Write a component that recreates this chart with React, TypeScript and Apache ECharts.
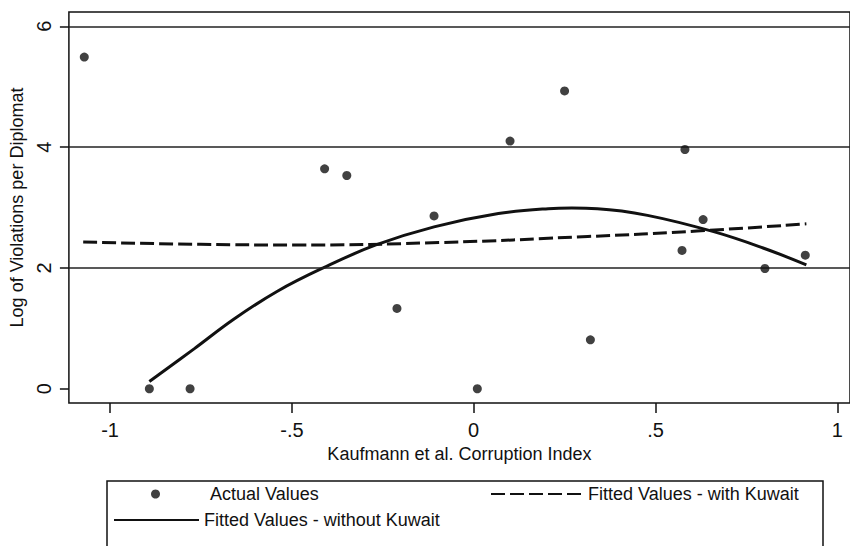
import React, { useEffect, useRef } from "react";
import * as echarts from "echarts";

// ---- data ----
const actualX = [-1.071, -0.892, -0.78, -0.41, -0.349, -0.211, -0.109, 0.01, 0.1, 0.25, 0.321, 0.573, 0.581, 0.631, 0.801, 0.912];
const actualY = [5.49, 0.0, 0.0, 3.64, 3.53, 1.33, 2.86, 0.0, 4.1, 4.93, 0.81, 2.29, 3.96, 2.8, 1.99, 2.21];

const fitWithX = [-1.074, -0.751, -0.478, -0.096, 0.314, 0.614, 0.915];
const fitWithY = [2.43, 2.39, 2.38, 2.42, 2.52, 2.61, 2.73];

const fitWithoutX = [-0.892, -0.769, -0.66, -0.541, -0.414, -0.269, -0.109, 0.068, 0.205, 0.27, 0.34, 0.478, 0.66, 0.796, 0.915];
const fitWithoutY = [0.12, 0.66, 1.15, 1.61, 2.0, 2.38, 2.68, 2.9, 2.98, 2.99, 2.98, 2.87, 2.6, 2.33, 2.05];

const xTickValues = [-1, -0.5, 0, 0.5, 1];
const xTickLabels = ["-1", "-.5", "0", ".5", "1"];
const yTickValues = [0, 2, 4, 6];
const yTickLabels = ["0", "2", "4", "6"];
const gridLineValues = [2, 4, 6];

const seriesNames = ["Actual Values", "Fitted Values - with Kuwait", "Fitted Values - without Kuwait"];
const xTitle = "Kaufmann et al. Corruption Index";
const yTitle = "Log of Violations per Diplomat";

const FONT = "'Liberation Sans', Arial, sans-serif";
const INK = "#111";

export default function App() {
  const ref = useRef<HTMLDivElement>(null);
  useEffect(() => {
    if (!ref.current) return;
    const chart = echarts.init(ref.current, null, { renderer: "svg" });
    const pairs = (xs: number[], ys: number[]) => xs.map((x, i) => [x, ys[i]]);
    const legendText = { fontFamily: FONT, fontSize: 18, color: INK };
    chart.setOption({
      animation: false,
      backgroundColor: "#fff",
      grid: {
        left: 67,
        top: 12,
        right: -4,
        bottom: 143,
        show: true,
        borderColor: INK,
        borderWidth: 1.5,
        backgroundColor: "transparent",
      },
      xAxis: {
        type: "value",
        min: -1.1133,
        max: 1.035,
        name: xTitle,
        nameLocation: "middle",
        nameGap: 40,
        nameTextStyle: { fontFamily: FONT, fontSize: 18, color: INK },
        axisLine: { show: false, onZero: false },
        splitLine: { show: false },
        axisTick: {
          show: true,
          length: 10,
          customValues: xTickValues,
          lineStyle: { color: INK, width: 1.5 },
        },
        axisLabel: {
          customValues: xTickValues,
          margin: 17,
          fontFamily: FONT,
          fontSize: 20,
          color: INK,
          formatter: (v: number) => {
            const i = xTickValues.findIndex((t) => Math.abs(t - v) < 1e-9);
            return i >= 0 ? xTickLabels[i] : "";
          },
        },
      },
      yAxis: {
        type: "value",
        min: -0.236,
        max: 6.236,
        name: yTitle,
        nameLocation: "middle",
        nameGap: 40,
        nameTextStyle: { fontFamily: FONT, fontSize: 18, color: INK },
        axisLine: { show: false, onZero: false },
        splitLine: { show: false },
        axisTick: {
          show: true,
          length: 9,
          customValues: yTickValues,
          lineStyle: { color: INK, width: 1.5 },
        },
        axisLabel: {
          customValues: yTickValues,
          rotate: 90,
          margin: 15,
          fontFamily: FONT,
          fontSize: 20,
          color: INK,
          formatter: (v: number) => {
            const i = yTickValues.findIndex((t) => Math.abs(t - v) < 1e-9);
            return i >= 0 ? yTickLabels[i] : "";
          },
        },
      },
      legend: [
        {
          data: [seriesNames[0]],
          left: 151,
          top: 485,
          padding: 0,
          itemWidth: 9,
          itemHeight: 9,
          textStyle: { ...legendText, padding: [0, 0, 0, 45] },
          selectedMode: false,
        },
        {
          data: [seriesNames[1]],
          left: 490,
          top: 485,
          padding: 0,
          itemWidth: 92,
          itemHeight: 14,
          itemStyle: { opacity: 0 },
          textStyle: legendText,
          selectedMode: false,
        },
        {
          data: [seriesNames[2]],
          left: 113,
          top: 511,
          padding: 0,
          itemWidth: 85,
          itemHeight: 14,
          itemStyle: { opacity: 0 },
          textStyle: legendText,
          selectedMode: false,
        },
      ],
      graphic: [
        {
          type: "rect",
          left: 104.5,
          top: 478.5,
          shape: { x: 0, y: 0, width: 716, height: 90 },
          style: { fill: "none", stroke: INK, lineWidth: 1.5 },
          silent: true,
        },
      ],
      series: [
        {
          name: seriesNames[0],
          type: "scatter",
          data: pairs(actualX, actualY),
          symbol: "circle",
          symbolSize: 9,
          itemStyle: { color: INK },
          z: 5,
          markLine: {
            silent: true,
            symbol: ["none", "none"],
            label: { show: false },
            lineStyle: { color: "#222", width: 1.5, type: "solid" },
            emphasis: { disabled: true },
            data: gridLineValues.map((v) => ({ yAxis: v })),
          },
        },
        {
          name: seriesNames[1],
          type: "line",
          data: pairs(fitWithX, fitWithY),
          smooth: true,
          symbol: "none",
          itemStyle: { color: INK },
          lineStyle: { color: INK, width: 3, type: [14, 5] },
          z: 4,
        },
        {
          name: seriesNames[2],
          type: "line",
          data: pairs(fitWithoutX, fitWithoutY),
          smooth: 0.4,
          symbol: "none",
          itemStyle: { color: INK },
          lineStyle: { color: INK, width: 3, type: "solid" },
          z: 4,
        },
      ],
    });
    return () => chart.dispose();
  }, []);
  return (
    <div
      ref={ref}
      style={{ position: "absolute", left: 0, top: 0, width: 850, height: 546 }}
    />
  );
}
